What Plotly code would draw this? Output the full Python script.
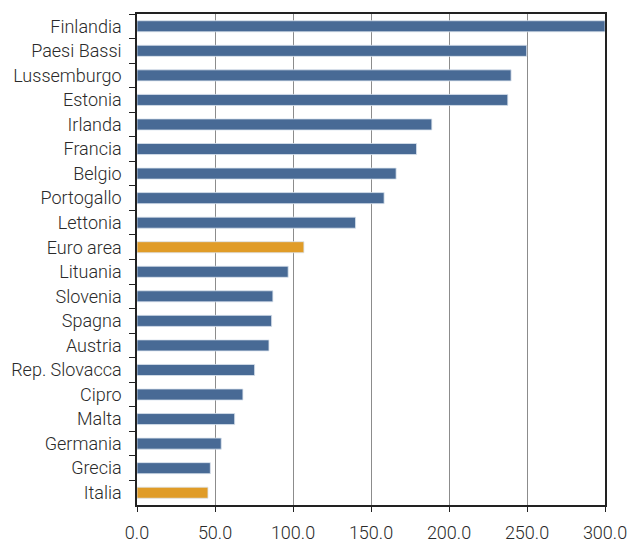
import plotly.graph_objects as go

countries = ["Finlandia", "Paesi Bassi", "Lussemburgo", "Estonia", "Irlanda", "Francia",
             "Belgio", "Portogallo", "Lettonia", "Euro area", "Lituania", "Slovenia",
             "Spagna", "Austria", "Rep. Slovacca", "Cipro", "Malta", "Germania",
             "Grecia", "Italia"]
values = [300.0, 249.8, 239.8, 237.7, 189.0, 179.2, 166.1, 158.4, 140.1, 107.0,
          96.9, 87.1, 86.3, 84.6, 75.4, 67.9, 62.6, 54.0, 47.0, 45.5]
highlight = ["Euro area", "Italia"]

BLUE = "#486a95"
ORANGE = "#e09c28"
colors = [ORANGE if c in highlight else BLUE for c in countries]

fig = go.Figure(go.Bar(
    x=values, y=countries, orientation="h",
    marker=dict(color=colors, line=dict(color="#dbe3ee", width=0.8)),
    hoverinfo="x+y",
))

fig.update_layout(
    width=632, height=543,
    margin=dict(l=137, r=27, t=14, b=38),
    paper_bgcolor="white", plot_bgcolor="white",
    bargap=0.55,
    showlegend=False,
    font=dict(family="Roboto", size=18, color="#2a2a2a", weight=300),
    xaxis=dict(
        range=[0, 300], tickvals=[0, 50, 100, 150, 200, 250, 300], tickformat=".1f",
        showgrid=True, gridcolor="#8c8c8c", gridwidth=1,
        showline=True, linecolor="#222222", linewidth=1.5, mirror=True,
        ticks="outside", ticklen=5, tickcolor="#222222", ticklabelstandoff=6,
        tickfont=dict(family="Roboto", size=18, color="#2a2a2a", weight=300),
        zeroline=False, fixedrange=True, automargin=False,
    ),
    yaxis=dict(
        autorange="reversed", categoryorder="array", categoryarray=countries,
        showline=True, linecolor="#222222", linewidth=1.5, mirror=True,
        ticks="outside", ticklen=6, tickcolor="#222222", tickson="boundaries",
        ticklabelstandoff=10,
        tickfont=dict(family="Roboto", size=18, color="#2a2a2a", weight=300),
        showgrid=False, fixedrange=True, automargin=False,
    ),
)

fig.write_html("out.html", config={"displayModeBar": False},
               post_script="document.body.style.margin='0';document.body.style.overflow='hidden';")
